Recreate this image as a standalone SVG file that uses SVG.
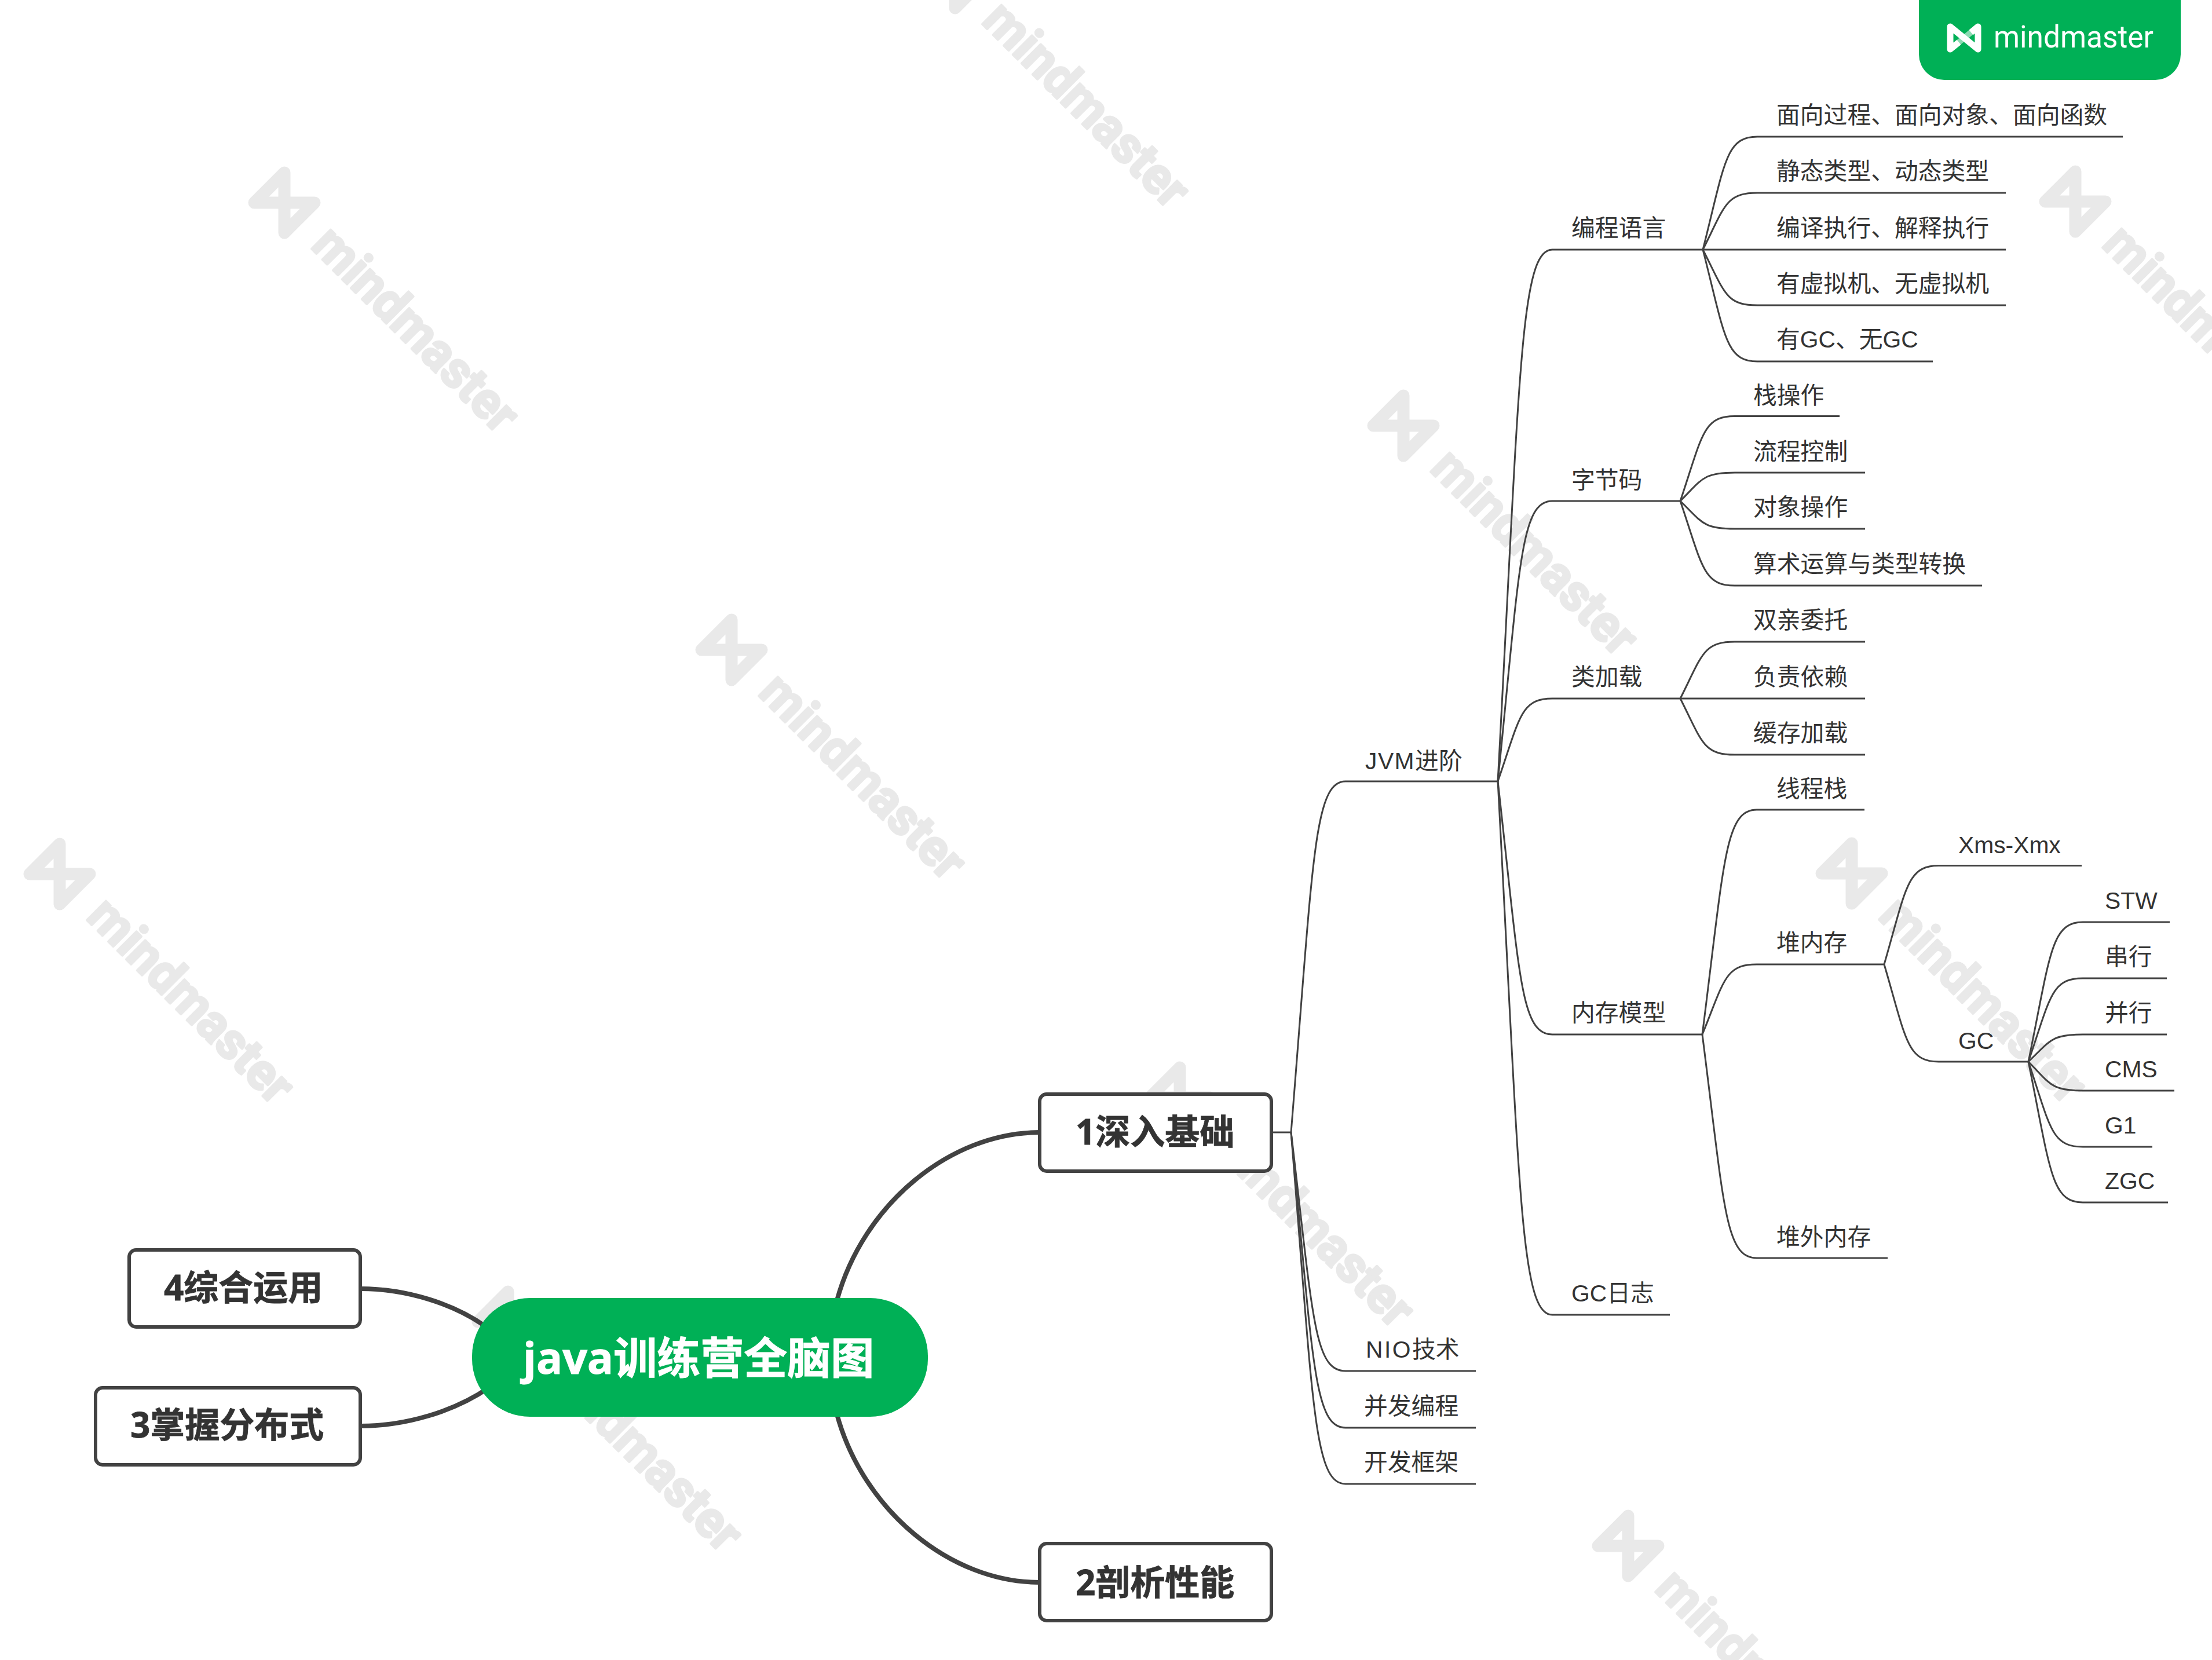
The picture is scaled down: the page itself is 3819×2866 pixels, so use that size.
<svg xmlns="http://www.w3.org/2000/svg" xmlns:xlink="http://www.w3.org/1999/xlink" width="3819" height="2866" viewBox="0 0 3819 2866">
<style>
text{font-family:"Liberation Sans","Noto Sans CJK SC",sans-serif}
.l{font-size:40.8px;fill:#333}
.b{font-size:60px;font-weight:700;fill:#333;stroke:#333;stroke-width:.8;font-family:"Open Sans","Noto Sans CJK SC",sans-serif}
.box{fill:#fff;stroke:#424242;stroke-width:6}
.thin{fill:none;stroke:#424242;stroke-width:3}
.thick{fill:none;stroke:#424242;stroke-width:8}
.wm{font-family:Roboto,"Open Sans",sans-serif;font-size:88px;font-weight:700;fill:#e9e9e9;stroke:#e9e9e9;stroke-width:4;stroke-linejoin:round}
.wl{fill:none;stroke:#e9e9e9;stroke-width:21;stroke-linecap:round;stroke-linejoin:round}
</style>
<defs>
<g id="wmark">
<path class="wl" d="M0 -52V52L52 0H-52Z"/>
<text class="wm" transform="rotate(45)" x="85" y="23" textLength="460" lengthAdjust="spacingAndGlyphs">mindmaster</text>
</g>
</defs>
<rect width="3819" height="2866" fill="#fff"/>
<g id="watermarks">
<use xlink:href="#wmark" href="#wmark" transform="translate(103 1509)"/>
<use xlink:href="#wmark" href="#wmark" transform="translate(491 350)"/>
<use xlink:href="#wmark" href="#wmark" transform="translate(1649 -38)"/>
<use xlink:href="#wmark" href="#wmark" transform="translate(1263 1122)"/>
<use xlink:href="#wmark" href="#wmark" transform="translate(2423 735)"/>
<use xlink:href="#wmark" href="#wmark" transform="translate(3583 348)"/>
<use xlink:href="#wmark" href="#wmark" transform="translate(877 2282)"/>
<use xlink:href="#wmark" href="#wmark" transform="translate(2037 1895)"/>
<use xlink:href="#wmark" href="#wmark" transform="translate(3197 1508)"/>
<use xlink:href="#wmark" href="#wmark" transform="translate(2811 2669)"/>
</g>
<g id="tab">
<path d="M3313 0H3765V94A44 44 0 0 1 3721 138H3357A44 44 0 0 1 3313 94Z" fill="#00b056"/>
<path d="M3367 85L3415 46" fill="none" stroke="#fff" stroke-opacity=".55" stroke-width="10"/>
<path d="M3382 73L3367 85V46L3415 85V46L3403 56" fill="none" stroke="#fff" stroke-width="11" stroke-linejoin="round"/>
<text x="3442" y="82" font-size="54" fill="#fff" textLength="276" lengthAdjust="spacingAndGlyphs" style="font-family:Roboto,'Open Sans',sans-serif;font-weight:400">mindmaster</text>
</g>
<g id="connectors">
<path class="thick" d="M1445 2245C1490 2080 1640 1955 1795 1955"/>
<path class="thick" d="M1445 2442C1490 2607 1640 2732 1795 2732"/>
<path class="thick" d="M622 2225C700 2225 785 2250 845 2295"/>
<path class="thick" d="M622 2462C700 2462 785 2437 845 2395"/>
<path class="thin" d="M2195 1955H2229"/>
<path class="thin" d="M2229 1955C2267 1488 2268 1349 2323 1349H2586"/>
<path class="thin" d="M2229 1955C2267 2272 2268 2367 2323 2367H2548"/>
<path class="thin" d="M2229 1955C2267 2348 2268 2465 2323 2465H2548"/>
<path class="thin" d="M2229 1955C2267 2422 2268 2562 2323 2562H2548"/>
<path class="thin" d="M2586 1349C2624 642 2625 431 2680 431H2940"/>
<path class="thin" d="M2586 1349C2624 976 2625 865 2680 865H2901"/>
<path class="thin" d="M2586 1349C2624 1239 2625 1206 2680 1206H2901"/>
<path class="thin" d="M2586 1349C2624 1685 2625 1786 2680 1786H2939"/>
<path class="thin" d="M2586 1349C2624 2058 2625 2270 2680 2270H2883"/>
<path class="thin" d="M2940 431C2978 281 2979 236 3034 236H3665"/>
<path class="thin" d="M2940 431C2978 356 2979 333 3034 333H3463"/>
<path class="thin" d="M2940 431H3463"/>
<path class="thin" d="M2940 431C2978 505 2979 527 3034 527H3463"/>
<path class="thin" d="M2940 431C2978 580 2979 624 3034 624H3337"/>
<path class="thin" d="M2901 865C2939 752 2940 718.500 2995 718.500H3176"/>
<path class="thin" d="M2901 865C2939 827 2940 816 2995 816H3220"/>
<path class="thin" d="M2901 865C2939 902 2940 913 2995 913H3220"/>
<path class="thin" d="M2901 865C2939 977 2940 1011 2995 1011H3422"/>
<path class="thin" d="M2901 1206C2939 1131 2940 1108 2995 1108H3220"/>
<path class="thin" d="M2901 1206H3220"/>
<path class="thin" d="M2901 1206C2939 1281 2940 1303 2995 1303H3220"/>
<path class="thin" d="M2939 1786C2977 1487 2978 1398 3033 1398H3219"/>
<path class="thin" d="M2939 1786C2977 1693 2978 1665 3033 1665H3253"/>
<path class="thin" d="M2939 1786C2977 2083 2978 2172 3033 2172H3259"/>
<path class="thin" d="M3253 1665C3291 1534 3292 1494.500 3347 1494.500H3594"/>
<path class="thin" d="M3253 1665C3291 1794 3292 1833 3347 1833H3502"/>
<path class="thin" d="M3502 1833C3540 1647 3541 1592 3596 1592H3746"/>
<path class="thin" d="M3502 1833C3540 1722 3541 1689 3596 1689H3741"/>
<path class="thin" d="M3502 1833C3540 1797 3541 1786 3596 1786H3741"/>
<path class="thin" d="M3502 1833C3540 1871.500 3541 1883 3596 1883H3754"/>
<path class="thin" d="M3502 1833C3540 1946 3541 1980 3596 1980H3716"/>
<path class="thin" d="M3502 1833C3540 2020 3541 2076 3596 2076H3743"/>
</g>
<g id="root"><rect x="815" y="2241" width="787" height="205" rx="100" fill="#00b056"/><text x="903" y="2372" font-size="75" font-weight="700" fill="#fff" stroke="#fff" stroke-width="1" style="font-family:'Open Sans','Noto Sans CJK SC',sans-serif">java训练营全脑图</text></g>
<g id="n1"><rect class="box" x="1795" y="1889" width="400" height="133" rx="12"/><text class="b" x="1857" y="1976">1深入基础</text></g>
<g id="n2"><rect class="box" x="1795" y="2665" width="400" height="133" rx="12"/><text class="b" x="1857" y="2754">2剖析性能</text></g>
<g id="n4"><rect class="box" x="223" y="2158" width="399" height="133" rx="12"/><text class="b" x="283" y="2245">4综合运用</text></g>
<g id="n3"><rect class="box" x="165" y="2396" width="457" height="133" rx="12"/><text class="b" x="225" y="2482">3掌握分布式</text></g>
<g id="jvm"><text class="l" x="2357" y="1328"><tspan letter-spacing="1.5">JVM</tspan>进阶</text></g>
<g id="nio"><text class="l" x="2358" y="2344"><tspan letter-spacing="2.5">NIO</tspan>技术</text></g>
<g id="concurrent"><text class="l" x="2355" y="2442">并发编程</text></g>
<g id="framework"><text class="l" x="2355" y="2539">开发框架</text></g>
<g id="lang"><text class="l" x="2713" y="408">编程语言</text></g>
<g id="bytecode"><text class="l" x="2713" y="843">字节码</text></g>
<g id="classload"><text class="l" x="2713" y="1183">类加载</text></g>
<g id="memory"><text class="l" x="2713" y="1763">内存模型</text></g>
<g id="gclog"><text class="l" x="2713" y="2247">GC日志</text></g>
<g id="l1"><text class="l" x="3067" y="213">面向过程、面向对象、面向函数</text></g>
<g id="l2"><text class="l" x="3067" y="310">静态类型、动态类型</text></g>
<g id="l3"><text class="l" x="3067" y="408">编译执行、解释执行</text></g>
<g id="l4"><text class="l" x="3067" y="504">有虚拟机、无虚拟机</text></g>
<g id="l5"><text class="l" x="3067" y="600">有GC、无GC</text></g>
<g id="b1"><text class="l" x="3027" y="697">栈操作</text></g>
<g id="b2"><text class="l" x="3027" y="794">流程控制</text></g>
<g id="b3"><text class="l" x="3027" y="890">对象操作</text></g>
<g id="b4"><text class="l" x="3027" y="988">算术运算与类型转换</text></g>
<g id="c1"><text class="l" x="3027" y="1085">双亲委托</text></g>
<g id="c2"><text class="l" x="3027" y="1183">负责依赖</text></g>
<g id="c3"><text class="l" x="3027" y="1280">缓存加载</text></g>
<g id="m1"><text class="l" x="3067" y="1376">线程栈</text></g>
<g id="m2"><text class="l" x="3067" y="1642">堆内存</text></g>
<g id="m3"><text class="l" x="3067" y="2150">堆外内存</text></g>
<g id="h1"><text class="l" x="3381" y="1473">Xms-Xmx</text></g>
<g id="h2"><text class="l" x="3381" y="1811">GC</text></g>
<g id="g1"><text class="l" x="3634" y="1569">STW</text></g>
<g id="g2"><text class="l" x="3634" y="1666">串行</text></g>
<g id="g3"><text class="l" x="3634" y="1763">并行</text></g>
<g id="g4"><text class="l" x="3634" y="1860">CMS</text></g>
<g id="g5"><text class="l" x="3634" y="1957">G1</text></g>
<g id="g6"><text class="l" x="3634" y="2053">ZGC</text></g>
</svg>
